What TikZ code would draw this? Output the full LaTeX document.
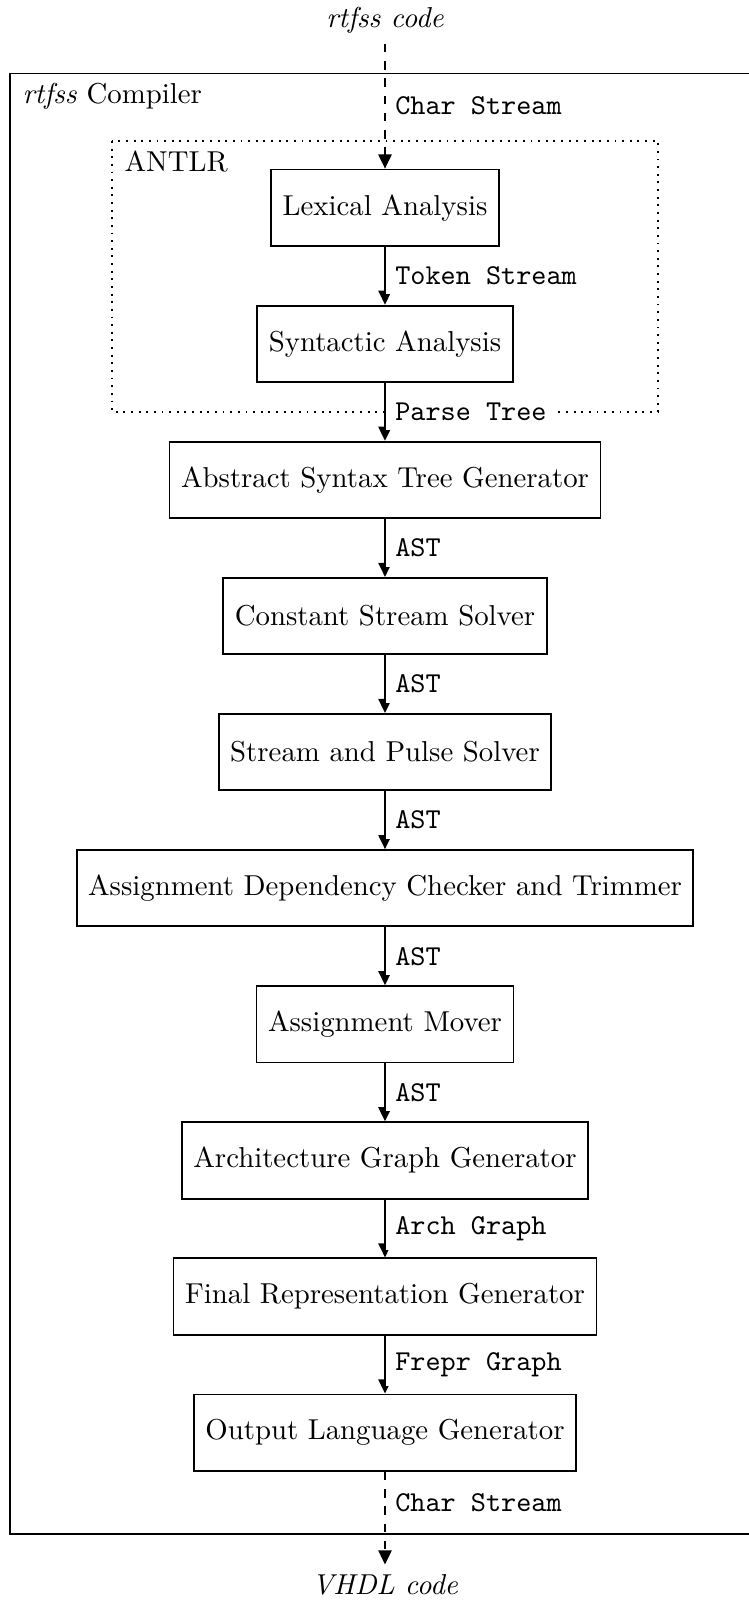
\documentclass[tikz,border=0pt]{standalone}
\usetikzlibrary{arrows.meta}
\begin{document}
\begin{tikzpicture}[x=0.3472pt,y=-0.3472pt,
  stage/.style={draw,line width=0.65pt,inner xsep=4pt,minimum height=26.5pt},
  flow/.style={line width=0.6pt,-{Triangle[length=4.9pt,width=4.6pt]}},
  lbl/.style={right,font=\ttfamily,fill=white,inner sep=3.3pt},
  endpoint/.style={font=\itshape},
  caption/.style={anchor=west,inner sep=0pt},
]
\useasboundingbox (0,0) rectangle (749,1601);

% compiler frame and ANTLR group
\draw[line width=0.65pt] (10,73.5) rectangle (820,1534);
\node[caption] (cname) at (22,96) {\textit{rtfss} Compiler};
\draw[line width=0.65pt,dotted] (112,141) rectangle (658,412);
\node[caption] (aname) at (124,161) {ANTLR};

% input and output
\node[endpoint] (src) at (385,20.4) {rtfss code};
\node[endpoint] (dst) at (385,1585) {VHDL code};

% pipeline stages
\node[stage] (lex)  at (385,207.7)  {Lexical Analysis};
\node[stage] (syn)  at (385,343.8)  {Syntactic Analysis};
\node[stage] (astg) at (385,479.9)  {Abstract Syntax Tree Generator};
\node[stage] (css)  at (385,616.0)  {Constant Stream Solver};
\node[stage] (sps)  at (385,752.1)  {Stream and Pulse Solver};
\node[stage] (adc)  at (385,888.2)  {Assignment Dependency Checker and Trimmer};
\node[stage] (am)   at (385,1024.3) {Assignment Mover};
\node[stage] (agg)  at (385,1160.4) {Architecture Graph Generator};
\node[stage] (frg)  at (385,1296.5) {Final Representation Generator};
\node[stage] (olg)  at (385,1432.6) {Output Language Generator};

% data flow
\draw[flow,dashed] (src) -- node[lbl] {Char Stream} (lex);
\draw[flow] (lex)  -- node[lbl] {Token Stream} (syn);
\draw[flow] (syn)  -- node[lbl] {Parse Tree} (astg);
\draw[flow] (astg) -- node[lbl] {AST} (css);
\draw[flow] (css)  -- node[lbl] {AST} (sps);
\draw[flow] (sps)  -- node[lbl] {AST} (adc);
\draw[flow] (adc)  -- node[lbl] {AST} (am);
\draw[flow] (am)   -- node[lbl] {AST} (agg);
\draw[flow] (agg)  -- node[lbl] {Arch Graph} (frg);
\draw[flow] (frg)  -- node[lbl] {Frepr Graph} (olg);
\draw[flow,dashed] (olg) -- node[lbl,pos=0.33] {Char Stream} (dst);
\end{tikzpicture}
\end{document}
